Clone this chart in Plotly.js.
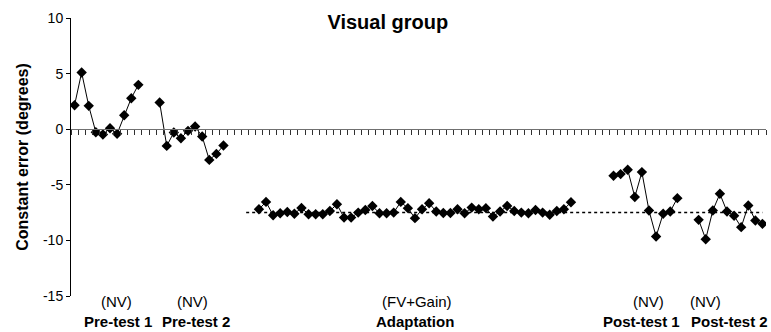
<!DOCTYPE html>
<html>
<head>
<meta charset="utf-8">
<script src="https://cdn.plot.ly/plotly-3.0.1.min.js"></script>
<style>html,body{margin:0;padding:0;background:#fff;}#chart{width:771px;height:332px;}</style>
</head>
<body>
<div id="chart"></div>
<script>
// Phase names and conditions
const phaseNames = ["Pre-test 1", "Pre-test 2", "Adaptation", "Post-test 1", "Post-test 2"];
const phaseConditions = ["(NV)", "(NV)", "(FV+Gain)", "(NV)", "(NV)"];
// First trial index (category slot) of each phase
const phaseStart = [0, 12, 26, 76, 88];

// Constant error (degrees) per trial
const pretest1 = [2.16, 5.1, 2.1, -0.27, -0.48, 0.09, -0.42, 1.26, 2.79, 3.99];
const pretest2 = [2.4, -1.5, -0.3, -0.81, -0.15, 0.24, -0.66, -2.76, -2.22, -1.47];
const adaptation = [-7.2, -6.54, -7.74, -7.56, -7.44, -7.6, -7.08, -7.65, -7.65, -7.65,
  -7.35, -6.75, -7.95, -7.95, -7.5, -7.26, -6.9, -7.56, -7.56, -7.5,
  -6.54, -7.1, -8.0, -7.2, -6.66, -7.4, -7.53, -7.53, -7.2, -7.56,
  -7.05, -7.2, -7.1, -7.86, -7.4, -6.9, -7.35, -7.5, -7.56, -7.26,
  -7.5, -7.7, -7.35, -7.2, -6.57];
const posttest1 = [-4.19, -4.04, -3.65, -6.1, -3.86, -7.31, -9.65, -7.6, -7.4, -6.2];
const posttest2 = [-8.15, -9.89, -7.31, -5.81, -7.4, -7.79, -8.81, -6.86, -8.21, -8.51];
const adaptationMean = [-7.5];

const yTickVals = [10, 5, 0, -5, -10, -15];
const totalSlots = 98;

const series = [pretest1, pretest2, adaptation, posttest1, posttest2];
const FONT = "Liberation Sans, Arial, sans-serif";

const traces = series.map((vals, i) => ({
  type: "scatter",
  mode: "lines+markers",
  x: vals.map((_, k) => phaseStart[i] + k),
  y: vals,
  line: {color: "#000", width: 1},
  marker: {symbol: "diamond", size: 8, color: "#000"},
  hoverinfo: "x+y",
  showlegend: false
}));

// dotted mean line for adaptation, extended to the end of post-tests
traces.unshift({
  type: "scatter",
  mode: "lines",
  x: [phaseStart[2] - 1.8, totalSlots - 1],
  y: [adaptationMean[0], adaptationMean[0]],
  line: {color: "#000", width: 1.5, dash: "dot"},
  hoverinfo: "skip",
  showlegend: false
});

// label positions (data x) for the phase annotations
const condLabelX = [5.9, 16.7, 48.3, 81, 89];
const nameLabelX = [6.1, 17.1, 48, 79.9, 92.3];

const annotations = [];
phaseNames.forEach((n, i) => {
  annotations.push({
    xref: "x", yref: "paper", x: condLabelX[i], y: -0.021,
    text: phaseConditions[i], showarrow: false, xanchor: "center", yanchor: "middle",
    font: {family: FONT, size: 15, color: "#000"}
  });
  annotations.push({
    xref: "x", yref: "paper", x: nameLabelX[i], y: -0.093,
    text: "<b>" + n + "</b>", showarrow: false, xanchor: "center", yanchor: "middle",
    font: {family: FONT, size: 15, color: "#000"}
  });
});

const layout = {
  width: 771, height: 332,
  margin: {l: 71, r: 5, t: 18, b: 36},
  paper_bgcolor: "#fff", plot_bgcolor: "#fff",
  font: {family: FONT, color: "#000"},
  title: {
    text: "<b>Visual group</b>",
    font: {family: FONT, size: 20, color: "#000"},
    x: 0.503, xanchor: "center", y: 0.935, yanchor: "middle"
  },
  xaxis: {
    range: [-0.5, totalSlots - 0.5],
    anchor: "free", position: 0.6,
    showline: true, linecolor: "#707070", linewidth: 1,
    ticks: "outside", ticklen: 5, tickcolor: "#303030", tickwidth: 1,
    tickmode: "linear", tick0: -0.5, dtick: 1,
    showticklabels: false, showgrid: false, zeroline: false,
    fixedrange: true
  },
  yaxis: {
    range: [-15, 10],
    tickvals: yTickVals,
    ticktext: yTickVals.map(String),
    showline: true, linecolor: "#000", linewidth: 1,
    ticks: "outside", ticklen: 4, tickcolor: "#000",
    showgrid: false, zeroline: false,
    tickfont: {family: FONT, size: 14, color: "#000"},
    title: {
      text: "<b>Constant error (degrees)</b>",
      font: {family: FONT, size: 16, color: "#000"},
      standoff: 10
    },
    fixedrange: true
  },
  annotations: annotations,
  showlegend: false
};

Plotly.newPlot("chart", traces, layout, {displayModeBar: false, staticPlot: true});
</script>
</body>
</html>
